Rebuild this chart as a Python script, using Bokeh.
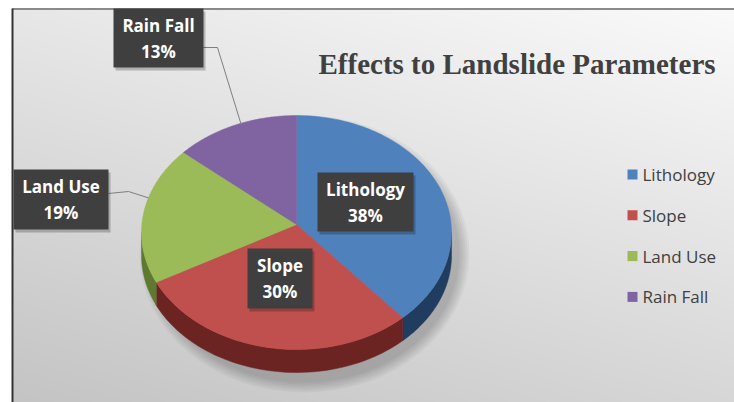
import numpy as np
from bokeh.plotting import figure
from bokeh.models import Range1d
from bokeh.core.properties import value
from bokeh.embed import file_html
from bokeh.resources import INLINE

# ---- data ----
categories = ["Lithology", "Slope", "Land Use", "Rain Fall"]
shares = [38, 30, 19, 13]
colors = ["#4f81bd", "#c0504d", "#9bbb59", "#8064a2"]
side_colors = ["#203c5e", "#6c2422", "#5f7a30", "#4b3a62"]
title_text = "Effects to Landslide Parameters"

# ---- layout (page pixels) ----
W, H = 734, 402
X0, Y0 = 0, 0
cx, cy, rx, ry = 296, 232, 155, 117
apex_x, apex_y = 296, 224
depth = 23

label_boxes = {  # left, right, top, bottom
    "Lithology": (317, 413, 172, 231),
    "Slope": (247, 312, 248, 308),
    "Land Use": (13, 108, 169, 229),
    "Rain Fall": (113, 203, 8, 67),
}
leader = {  # start point, elbow, anchor fraction within slice
    "Rain Fall": ((203, 47), (217, 47), 0.55),
    "Land Use": ((108, 193), (128, 191), 0.62),
}
legend_x, legend_y0, legend_dy = 632, 174, 40.8

p = figure(width=W, height=H, x_range=Range1d(X0, X0 + W), y_range=Range1d(Y0 + H, Y0),
           output_backend="svg", toolbar_location=None, min_border=0,
           x_axis_location=None, y_axis_location=None)
p.grid.visible = False
p.outline_line_color = None
p.background_fill_color = "white"
p.border_fill_color = "white"

# ---- background gradient ----
bx0, by0, bx1, by1 = 12, 9, X0 + W, Y0 + H
nx, ny = 361, 197
XX, YY = np.meshgrid(np.linspace(0, 1, nx), np.linspace(0, 1, ny))
t = 0.35 * (1 - XX) + 0.65 * YY
c = np.clip(250 - 54 * t, 0, 255).astype(np.uint32)
img = (np.uint32(255) << 24) | (c << 16) | (c << 8) | c
p.image_rgba(image=[img.astype(np.uint32)], x=bx0, y=by0, dw=bx1 - bx0, dh=by1 - by0)

# borders
p.segment(x0=[12], y0=[8.5], x1=[X0 + W], y1=[8.5], line_color="#8a8a8a", line_width=2)
p.segment(x0=[12], y0=[8], x1=[12], y1=[Y0 + H], line_color="#333333", line_width=2)

# ---- pie geometry from data ----
fr = np.array(shares, dtype=float) / sum(shares)
ends = np.cumsum(fr) * 360
starts = np.concatenate([[0], ends[:-1]])


def rim(th_deg, dy=0.0):
    th = np.radians(th_deg)
    return cx + rx * np.sin(th), cy - ry * np.cos(th) + dy


# shadow
for k in range(6):
    p.ellipse(x=[cx + 8], y=[cy + depth / 2 + 10], width=[2 * rx + 4 * k],
              height=[2 * ry + depth + 4 * k], fill_color="black", fill_alpha=0.035,
              line_color=None)

# sides
side_xs, side_ys, side_cols = [], [], []
for s, e, sc in zip(starts, ends, side_colors):
    a, b = max(s, 90), min(e, 270)
    if a < b:
        th = np.linspace(a, b, 60)
        tx, ty = rim(th)
        bx_, by_ = rim(th[::-1], depth)
        side_xs.append(list(np.concatenate([tx, bx_])))
        side_ys.append(list(np.concatenate([ty, by_])))
        side_cols.append(sc)
p.patches(xs=side_xs, ys=side_ys, fill_color=side_cols, line_color=side_cols, line_width=0.5)

# top faces
top_xs, top_ys = [], []
for s, e in zip(starts, ends):
    th = np.linspace(s, e, 100)
    tx, ty = rim(th)
    top_xs.append([apex_x] + list(tx))
    top_ys.append([apex_y] + list(ty))
p.patches(xs=top_xs, ys=top_ys, fill_color=colors, line_color=colors, line_width=0.5)

# ---- leader lines ----
for name, (p0, p1, f) in leader.items():
    i = categories.index(name)
    ax, ay = rim(starts[i] + f * (ends[i] - starts[i]))
    p.line(x=[p0[0], p1[0], ax], y=[p0[1], p1[1], ay], line_color="#7f7f7f", line_width=1)

# ---- data labels ----
for name, v in zip(categories, shares):
    l, r, tp, bt = label_boxes[name]
    p.quad(left=[l + 2], right=[r + 2], top=[tp + 3], bottom=[bt + 3],
           fill_color="black", fill_alpha=0.22, line_color=None)
    p.quad(left=[l], right=[r], top=[tp], bottom=[bt], fill_color="#3f3f3f", line_color=None)
    mx, my = (l + r) / 2, (tp + bt) / 2
    p.text(x=[mx, mx], y=[my - 13, my + 13], text=[name, f"{v}%"],
           text_font=value("Open Sans"), text_font_style="bold", text_font_size="17px",
           text_color="white", text_align="center", text_baseline="middle")

# ---- title ----
p.text(x=[318], y=[63], text=[title_text], text_font=value("Liberation Serif"),
       text_font_style="bold", text_font_size="29px", text_color="#404040",
       text_align="left", text_baseline="alphabetic")

# ---- legend ----
ly = [legend_y0 + i * legend_dy for i in range(len(categories))]
p.rect(x=[legend_x] * len(categories), y=ly, width=10, height=10, fill_color=colors, line_color=None)
p.text(x=[legend_x + 10] * len(categories), y=ly, text=categories, text_font=value("Open Sans"),
       text_font_size="17px", text_color="#404040", text_align="left", text_baseline="middle")

open("out.html", "w").write(file_html(p, INLINE))
